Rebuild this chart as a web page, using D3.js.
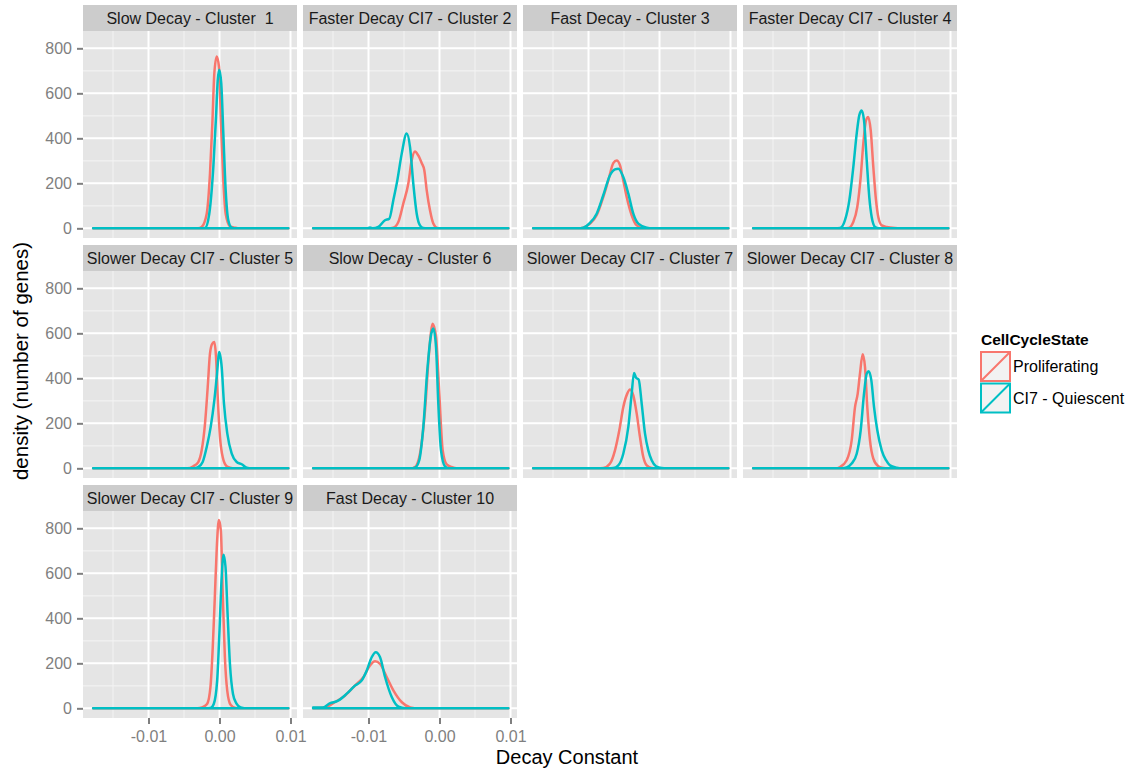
<!DOCTYPE html>
<html><head><meta charset="utf-8">
<script src="https://cdn.jsdelivr.net/npm/d3@7"></script>
<style>
body{margin:0;background:#fff}
text{font-family:"Liberation Sans",Arial,Helvetica,sans-serif}
</style>
</head><body>
<svg id="chart" width="1132" height="771"></svg>
<script>
// ---------------- data ----------------
const panelTitles = [
  "Slow Decay - Cluster  1",
  "Faster Decay CI7 - Cluster 2",
  "Fast Decay - Cluster 3",
  "Faster Decay CI7 - Cluster 4",
  "Slower Decay CI7 - Cluster 5",
  "Slow Decay - Cluster 6",
  "Slower Decay CI7 - Cluster 7",
  "Slower Decay CI7 - Cluster 8",
  "Slower Decay CI7 - Cluster 9",
  "Fast Decay - Cluster 10"
];
const stateNames = ["Proliferating", "CI7 - Quiescent"];
const legendTitle = "CellCycleState";
const xTitle = "Decay Constant";
const yTitle = "density (number of genes)";
const yTicks = [0, 200, 400, 600, 800];
const yMinor = [100, 300, 500, 700];
const xTicks = [-0.01, 0, 0.01];
const xTickLabels = ["-0.01", "0.00", "0.01"];
const xMinor = [-0.015, -0.005, 0.005];
const dataRange = [-0.0178, 0.0097];

// [decay constant, density]
const p1 = [[-0.0030,0],[-0.00251,6],[-0.0018,65],[-0.00134,243],[-0.00101,465],[-0.00073,688],[-0.00039,764],[-0.00007,717],[0.00021,465],[0.00054,213],[0.00087,65],[0.00148,9],[0.00218,3],[0.0028,0]];
const q1 = [[-0.0025,0],[-0.00204,1],[-0.00144,65],[-0.00087,272],[-0.00049,495],[-0.00025,658],[-0.00003,705],[0.00025,643],[0.00054,421],[0.00087,169],[0.00124,36],[0.00172,3],[0.0022,0]];
const p2 = [[-0.0072,0],[-0.00651,3],[-0.0058,28],[-0.0051,110],[-0.00439,199],[-0.00392,302],[-0.00345,342],[-0.00299,324],[-0.00251,290],[-0.00214,258],[-0.0018,169],[-0.00134,80],[-0.00087,21],[-0.00031,1],[0.0002,0]];
const q2 = [[-0.0102,0],[-0.00979,4],[-0.0094,0],[-0.00862,6],[-0.00768,36],[-0.00707,43],[-0.00651,124],[-0.00594,213],[-0.00532,332],[-0.00462,421],[-0.00415,361],[-0.00369,199],[-0.00321,65],[-0.00275,13],[-0.00228,1],[-0.0018,0]];
const p3 = [[-0.0115,0],[-0.01073,3],[-0.00979,21],[-0.00885,58],[-0.00792,139],[-0.00721,213],[-0.00651,290],[-0.00603,302],[-0.00556,280],[-0.0051,213],[-0.00462,139],[-0.00392,58],[-0.00321,13],[-0.00228,1],[-0.0017,0]];
const q3 = [[-0.0115,0],[-0.01073,3],[-0.00979,24],[-0.00885,65],[-0.00792,147],[-0.00697,236],[-0.00627,262],[-0.0058,265],[-0.0051,228],[-0.00439,154],[-0.00369,65],[-0.00299,21],[-0.0018,3],[-0.0010,0]];
const p4 = [[-0.0050,0],[-0.00439,1],[-0.00369,28],[-0.00313,95],[-0.00265,228],[-0.00228,376],[-0.0019,480],[-0.00158,495],[-0.00124,436],[-0.00087,272],[-0.00049,124],[-0.00017,50],[0.00031,13],[0.00101,6],[0.00218,1],[0.003,0]];
const q4 = [[-0.0062,0],[-0.00556,1],[-0.00486,36],[-0.00425,124],[-0.00369,272],[-0.00321,421],[-0.00285,502],[-0.00251,524],[-0.00218,480],[-0.0018,302],[-0.00144,139],[-0.0011,50],[-0.00063,6],[-0.0001,0]];
const p5 = [[-0.0045,0],[-0.00369,9],[-0.00299,28],[-0.00251,80],[-0.00204,199],[-0.00166,361],[-0.00134,510],[-0.00101,554],[-0.00073,561],[-0.00049,495],[-0.00025,317],[0.00007,139],[0.00045,50],[0.00101,9],[0.00148,3],[0.0022,0]];
const q5 = [[-0.0036,0],[-0.00299,6],[-0.00237,28],[-0.0018,95],[-0.00124,184],[-0.00073,302],[-0.00039,406],[-0.00003,517],[0.00031,450],[0.00063,288],[0.0011,154],[0.00172,65],[0.00242,28],[0.00313,18],[0.00383,3],[0.0045,0]];
const p6 = [[-0.0041,0],[-0.00345,6],[-0.00275,65],[-0.00204,258],[-0.00148,510],[-0.00096,643],[-0.00049,584],[-0.00003,332],[0.00045,80],[0.00101,18],[0.00172,6],[0.0024,0]];
const q6 = [[-0.0040,0],[-0.00345,3],[-0.00285,36],[-0.00228,184],[-0.00172,435],[-0.00124,584],[-0.00087,621],[-0.00049,539],[-0.00017,288],[0.00021,80],[0.00077,9],[0.0013,0]];
const p7 = [[-0.0087,0],[-0.00792,1],[-0.00697,21],[-0.00627,80],[-0.00566,169],[-0.0051,272],[-0.00454,332],[-0.00415,350],[-0.00369,324],[-0.00321,243],[-0.00275,139],[-0.00228,50],[-0.0018,13],[-0.0011,1],[-0.0005,0]];
const q7 = [[-0.0072,0],[-0.00651,1],[-0.0058,13],[-0.0051,65],[-0.00439,184],[-0.00392,332],[-0.00359,424],[-0.00331,403],[-0.00293,394],[-0.00251,288],[-0.00204,154],[-0.00158,80],[-0.0011,36],[-0.00049,9],[0.00031,1],[0.001,0]];
const p8 = [[-0.0062,0],[-0.00556,6],[-0.00462,36],[-0.00392,124],[-0.00345,272],[-0.00307,332],[-0.00275,421],[-0.00237,507],[-0.00204,450],[-0.00172,272],[-0.00134,124],[-0.00087,43],[-0.00017,9],[0.00054,1],[0.0012,0]];
const q8 = [[-0.0053,0],[-0.00462,4],[-0.00392,21],[-0.00321,65],[-0.00265,169],[-0.00218,332],[-0.0018,421],[-0.00152,432],[-0.00115,391],[-0.00077,272],[-0.00031,169],[0.00031,80],[0.00092,36],[0.00148,13],[0.00242,3],[0.0032,0]];
const p9 = [[-0.0031,0],[-0.00246,4],[-0.00175,19],[-0.00128,93],[-0.00095,271],[-0.00066,493],[-0.00038,716],[-0.00009,837],[0.00019,790],[0.00047,493],[0.00076,227],[0.00109,79],[0.00156,16],[0.00227,1],[0.0029,0]];
const q9 = [[-0.0019,0],[-0.00128,1],[-0.00081,19],[-0.00033,123],[0,345],[0.00028,567],[0.00057,683],[0.00085,627],[0.00114,419],[0.00147,197],[0.0019,64],[0.00237,22],[0.00299,4],[0.00393,0]];
const p10 = [[-0.0178,1],[-0.01617,4],[-0.01475,27],[-0.01333,56],[-0.01191,101],[-0.01073,138],[-0.00979,190],[-0.00908,209],[-0.00837,197],[-0.00742,138],[-0.00648,79],[-0.0053,27],[-0.00411,4],[-0.00293,0]];
const q10 = [[-0.0178,4],[-0.01641,4],[-0.01546,22],[-0.01428,34],[-0.0131,64],[-0.01191,101],[-0.01097,123],[-0.01026,167],[-0.00955,227],[-0.00898,249],[-0.00837,227],[-0.00766,138],[-0.00671,49],[-0.00577,7],[-0.00482,0]];

const prolif = [p1, p2, p3, p4, p5, p6, p7, p8, p9, p10];
const quiesc = [q1, q2, q3, q4, q5, q6, q7, q8, q9, q10];

// ---------------- layout ----------------
const colors = ["#F8766D", "#00BFC4"];
const panelLeft0 = 83, colPitch = 220, panelW = 214;
const rowTop0 = 5, rowPitch = 240, stripH = 26, panelH = 207;
const nCols = 4;
const FONT = '"Liberation Sans", Arial, Helvetica, sans-serif';

const x = d3.scaleLinear().domain([-0.019225, 0.010915]).range([0, panelW]);
const y = d3.scaleLinear().domain([-43, 877]).range([panelH, 0]);

const svg = d3.select("#chart");

function fullSeries(pts) {
  const out = [];
  if (pts[0][0] > dataRange[0]) out.push([dataRange[0], 0]);
  pts.forEach(p => out.push(p));
  if (pts[pts.length - 1][0] < dataRange[1]) out.push([dataRange[1], 0]);
  return out;
}

const area = d3.area()
  .x(d => x(d[0]))
  .y0(y(0))
  .y1(d => y(d[1]))
  .curve(d3.curveMonotoneX);

const nPanels = panelTitles.length;
const lastRow = Math.floor((nPanels - 1) / nCols);

panelTitles.forEach((title, i) => {
  const col = i % nCols, row = Math.floor(i / nCols);
  const left = panelLeft0 + col * colPitch;
  const stripTop = rowTop0 + row * rowPitch;
  const top = stripTop + stripH;

  // strip
  svg.append("rect").attr("x", left).attr("y", stripTop)
    .attr("width", panelW).attr("height", stripH).attr("fill", "#CCCCCC");
  svg.append("text").attr("x", left + panelW / 2).attr("y", stripTop + stripH / 2 + 5.6)
    .attr("text-anchor", "middle").attr("font-size", 16).attr("fill", "#1A1A1A")
    .style("white-space", "pre").text(title);

  const g = svg.append("g").attr("transform", `translate(${left},${top})`);
  g.append("rect").attr("width", panelW).attr("height", panelH).attr("fill", "#E5E5E5");

  // minor grid
  g.selectAll(".ym").data(yMinor).enter().append("line")
    .attr("x1", 0).attr("x2", panelW).attr("y1", d => y(d)).attr("y2", d => y(d))
    .attr("stroke", "#F2F2F2").attr("stroke-width", 1.1);
  g.selectAll(".xm").data(xMinor).enter().append("line")
    .attr("y1", 0).attr("y2", panelH).attr("x1", d => x(d)).attr("x2", d => x(d))
    .attr("stroke", "#F2F2F2").attr("stroke-width", 1.1);
  // major grid
  g.selectAll(".yM").data(yTicks).enter().append("line")
    .attr("x1", 0).attr("x2", panelW).attr("y1", d => y(d)).attr("y2", d => y(d))
    .attr("stroke", "#FFFFFF").attr("stroke-width", 2);
  g.selectAll(".xM").data(xTicks).enter().append("line")
    .attr("y1", 0).attr("y2", panelH).attr("x1", d => x(d)).attr("x2", d => x(d))
    .attr("stroke", "#FFFFFF").attr("stroke-width", 2);

  // densities
  [prolif[i], quiesc[i]].forEach((pts, s) => {
    g.append("path").attr("d", area(fullSeries(pts)))
      .attr("fill", "none").attr("stroke", colors[s])
      .attr("stroke-width", 2.5).attr("stroke-linejoin", "round");
  });

  // y axis on first column
  if (col === 0) {
    const ax = g.append("g").call(d3.axisLeft(y).tickValues(yTicks).tickSize(6).tickPadding(5));
    ax.select(".domain").remove();
    ax.selectAll("line").attr("stroke", "#7F7F7F").attr("stroke-width", 2);
    ax.selectAll("text").attr("font-size", 16).attr("fill", "#7F7F7F").attr("font-family", FONT);
  }
  // x axis on last row
  if (row === lastRow) {
    const ax = g.append("g").attr("transform", `translate(0,${panelH})`)
      .call(d3.axisBottom(x).tickValues(xTicks).tickFormat((d, k) => xTickLabels[k]).tickSize(6).tickPadding(7));
    ax.select(".domain").remove();
    ax.selectAll("line").attr("stroke", "#7F7F7F").attr("stroke-width", 2);
    ax.selectAll("text").attr("font-size", 16).attr("fill", "#7F7F7F").attr("font-family", FONT);
  }
});

// axis titles
svg.append("text").attr("x", 567).attr("y", 764).attr("text-anchor", "middle")
  .attr("font-size", 20).attr("fill", "#000").text(xTitle);
svg.append("text").attr("transform", "translate(28,361) rotate(-90)")
  .attr("text-anchor", "middle").attr("font-size", 20.5).attr("fill", "#000").text(yTitle);

// legend
const lg = svg.append("g");
lg.append("text").attr("x", 981).attr("y", 345).attr("font-size", 15.5)
  .attr("font-weight", "bold").attr("fill", "#000").text(legendTitle);
stateNames.forEach((name, s) => {
  const ky = 352 + s * 31.5, kx = 981, ks = 29;
  lg.append("rect").attr("x", kx).attr("y", ky).attr("width", ks).attr("height", ks)
    .attr("fill", "#F2F2F2").attr("stroke", colors[s]).attr("stroke-width", 2);
  lg.append("line").attr("x1", kx).attr("y1", ky + ks).attr("x2", kx + ks).attr("y2", ky)
    .attr("stroke", colors[s]).attr("stroke-width", 2);
  lg.append("text").attr("x", 1013).attr("y", ky + ks / 2).attr("dy", "0.35em")
    .attr("font-size", 16).attr("fill", "#000").text(name);
});
</script>
</body></html>
